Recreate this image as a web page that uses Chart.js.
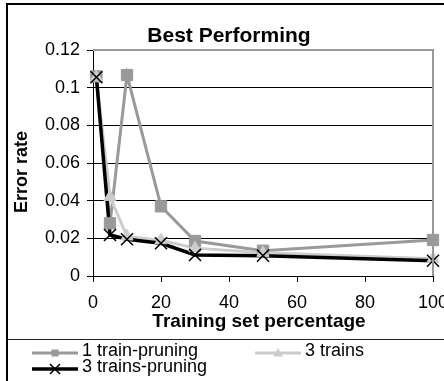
<!DOCTYPE html>
<html>
<head>
<meta charset="utf-8">
<script src="https://cdn.jsdelivr.net/npm/chart.js@4/dist/chart.umd.min.js"></script>
<style>
  html, body { margin: 0; padding: 0; background: #fff; }
  canvas { display: block; }
</style>
</head>
<body>
<canvas id="chart" width="444" height="381"></canvas>
<script>
// data
const xValues = [1, 5, 10, 20, 30, 50, 100];
const oneTrainPruning = [0.106, 0.028, 0.1067, 0.037, 0.0186, 0.0134, 0.0191];
const threeTrains = [0.1055, 0.042, 0.021, 0.019, 0.0148, 0.0123, 0.0092];
const threeTrainsPruning = [0.1055, 0.0218, 0.0195, 0.0174, 0.0112, 0.0108, 0.0081];
const xTicks = [0, 20, 40, 60, 80, 100];
const yTicks = [0, 0.02, 0.04, 0.06, 0.08, 0.1, 0.12];
const seriesNames = ['1 train-pruning', '3 trains', '3 trains-pruning'];

const FONT = '"Liberation Sans", Arial, sans-serif';

function pts(ys) {
  return xValues.map((x, i) => ({ x: x, y: ys[i] }));
}

const series = [
  { name: seriesNames[0], data: oneTrainPruning, color: '#999999', width: 3, style: 'rect', radius: 8 },
  { name: seriesNames[1], data: threeTrains, color: '#cccccc', width: 3, style: 'triangle', radius: 7 },
  { name: seriesNames[2], data: threeTrainsPruning, color: '#000000', width: 3.5, style: 'crossRot', radius: 8.5 }
];

// Excel draws every line first, then every marker on top
const datasets = [];
series.forEach((s, i) => {
  datasets.push({
    label: s.name,
    data: pts(s.data),
    borderColor: s.color,
    borderWidth: s.width,
    pointRadius: 0,
    showLine: true,
    tension: 0,
    clip: false,
    order: 5 - i
  });
});
series.forEach((s, i) => {
  datasets.push({
    label: s.name + ' markers',
    data: pts(s.data),
    showLine: false,
    pointStyle: s.style,
    pointRadius: s.radius,
    pointBackgroundColor: s.color,
    pointBorderColor: s.color,
    pointBorderWidth: s.style === 'crossRot' ? 1.5 : 1,
    clip: false,
    order: 2 - i
  });
});

const framePlugin = {
  id: 'frame',
  afterDraw(chart) {
    const ctx = chart.ctx;
    const a = chart.chartArea;
    ctx.save();

    // plot area top/right border
    ctx.strokeStyle = '#999999';
    ctx.lineWidth = 2;
    ctx.beginPath();
    ctx.moveTo(a.left, a.top);
    ctx.lineTo(a.right, a.top);
    ctx.lineTo(a.right, a.bottom);
    ctx.stroke();

    // outer chart border
    ctx.strokeStyle = '#000';
    ctx.lineWidth = 2;
    ctx.beginPath();
    ctx.moveTo(444, 4);
    ctx.lineTo(7, 4);
    ctx.lineTo(7, 381);
    ctx.stroke();

    // legend separator
    ctx.lineWidth = 1;
    ctx.strokeStyle = '#222';
    ctx.beginPath();
    ctx.moveTo(7, 339.5);
    ctx.lineTo(444, 339.5);
    ctx.stroke();

    // titles
    ctx.fillStyle = '#000';
    ctx.textAlign = 'center';
    ctx.textBaseline = 'alphabetic';
    ctx.font = 'bold 21px ' + FONT;
    ctx.fillText('Best Performing', 229, 42);

    ctx.font = 'bold 19px ' + FONT;
    ctx.fillText('Training set percentage', 259, 327);

    ctx.save();
    ctx.translate(22, 172);
    ctx.rotate(-Math.PI / 2);
    ctx.textBaseline = 'middle';
    ctx.font = 'bold 18px ' + FONT;
    ctx.fillText('Error rate', 0, 0);
    ctx.restore();

    // legend
    const items = [
      { s: series[0], x: 32, y: 353, size: 3.5 },
      { s: series[1], x: 255, y: 353, size: 5 },
      { s: series[2], x: 32, y: 369, size: 5 }
    ];
    items.forEach(it => {
      const s = it.s;
      ctx.strokeStyle = s.color;
      ctx.lineWidth = s.width;
      ctx.beginPath();
      ctx.moveTo(it.x, it.y);
      ctx.lineTo(it.x + 46, it.y);
      ctx.stroke();
      const cx = it.x + 23, cy = it.y, r = it.size;
      ctx.fillStyle = s.color;
      if (s.style === 'rect') {
        ctx.fillRect(cx - r, cy - r, 2 * r, 2 * r);
      } else if (s.style === 'triangle') {
        ctx.beginPath();
        ctx.moveTo(cx, cy - r);
        ctx.lineTo(cx + r, cy + r * 0.7);
        ctx.lineTo(cx - r, cy + r * 0.7);
        ctx.closePath();
        ctx.fill();
      } else {
        ctx.lineWidth = 1.5;
        ctx.beginPath();
        ctx.moveTo(cx - r, cy - r);
        ctx.lineTo(cx + r, cy + r);
        ctx.moveTo(cx + r, cy - r);
        ctx.lineTo(cx - r, cy + r);
        ctx.stroke();
      }
      ctx.fillStyle = '#000';
      ctx.textAlign = 'left';
      ctx.textBaseline = 'middle';
      ctx.font = '18px ' + FONT;
      ctx.fillText(s.name, it.x + 50, it.y - 1.5);
    });

    ctx.restore();
  }
};

new Chart(document.getElementById('chart'), {
  type: 'line',
  data: { datasets: datasets },
  options: {
    responsive: false,
    animation: false,
    devicePixelRatio: 1,
    layout: { autoPadding: false, padding: { left: 0, top: 50, right: 11, bottom: 0 } },
    plugins: {
      legend: { display: false },
      tooltip: { enabled: false }
    },
    scales: {
      x: {
        type: 'linear',
        min: 0,
        max: 100,
        afterFit: s => { s.height = 105; s.paddingLeft = 0; s.paddingRight = 0; },
        afterBuildTicks: s => { s.ticks = xTicks.map(v => ({ value: v })); },
        grid: { drawOnChartArea: false, drawTicks: true, tickLength: 6, color: '#000' },
        border: { display: true, color: '#000', width: 1 },
        ticks: {
          color: '#000',
          padding: 10,
          maxRotation: 0,
          autoSkip: false,
          font: { family: FONT, size: 18 },
          callback: v => String(v)
        }
      },
      y: {
        min: 0,
        max: 0.12,
        afterFit: s => { s.width = 93; s.paddingTop = 0; s.paddingBottom = 0; },
        afterBuildTicks: s => { s.ticks = yTicks.map(v => ({ value: v })); },
        grid: { drawOnChartArea: true, drawTicks: true, tickLength: 6, color: '#000', lineWidth: 1 },
        border: { display: true, color: '#000', width: 1 },
        ticks: {
          color: '#000',
          padding: 7,
          font: { family: FONT, size: 18 },
          callback: v => String(+v.toFixed(2))
        }
      }
    }
  },
  plugins: [framePlugin]
});
</script>
</body>
</html>
